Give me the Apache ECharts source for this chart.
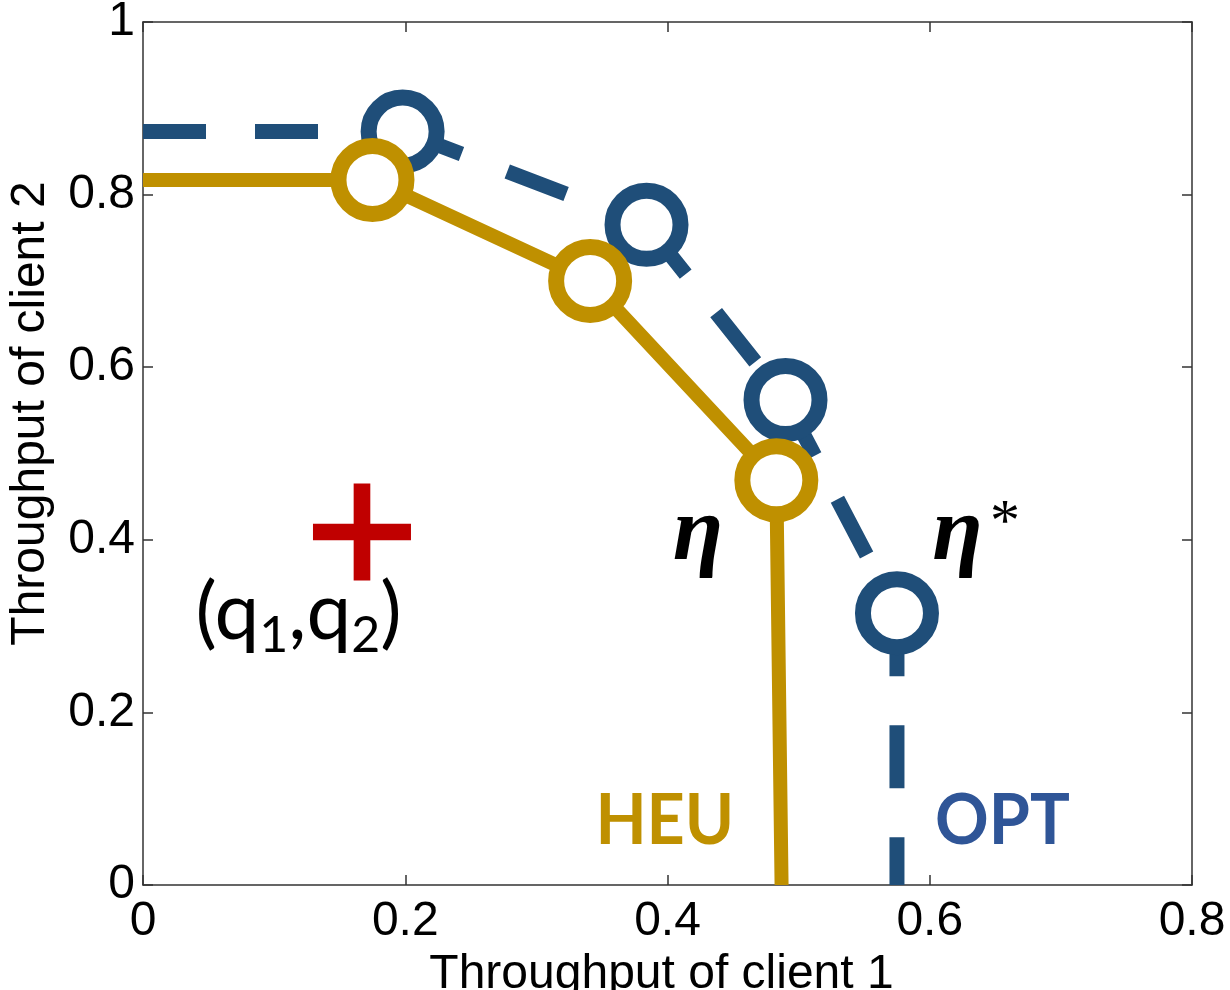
<!DOCTYPE html>
<html><head><meta charset="utf-8">
<script src="https://cdn.jsdelivr.net/npm/echarts@6/dist/echarts.min.js"></script>
<style>html,body{margin:0;padding:0;background:#fff}#chart{width:1230px;height:990px}</style>
</head><body><div id="chart"></div>
<script>
// Throughput region of two clients: heuristic (HEU) vs optimal (OPT) frontier
const xTicks = [0, 0.2, 0.4, 0.6, 0.8];
const yTicks = [0, 0.2, 0.4, 0.6, 0.8, 1];
const optX = [0, 0.198, 0.384, 0.490, 0.575, 0.575];
const optY = [0.873, 0.873, 0.765, 0.562, 0.315, 0];
const heuX = [0, 0.175, 0.341, 0.483, 0.487];
const heuY = [0.817, 0.817, 0.700, 0.469, 0];
const demand = [0.167, 0.409]; // (q1, q2)

const OPT_C = '#1f4e79', HEU_C = '#bf9000';
const pts = (xs, ys) => xs.map((x, i) => [x, ys[i]]);
const inner = a => a.slice(1, -1); // frontier vertices carry the circle markers

const chart = echarts.init(document.getElementById('chart'), null, {renderer: 'canvas'});
const FONT = '"Liberation Sans", Arial, sans-serif';

const axisCommon = {
  type: 'value', interval: 0.2,
  axisLine: {show: true, onZero: false, lineStyle: {color: '#333', width: 1.5}},
  axisTick: {show: true, inside: true, length: 10, lineStyle: {color: '#333', width: 1.5}},
  splitLine: {show: false}
};
const labelStyle = {color: '#000', fontSize: 48, fontFamily: FONT};
const fmt = v => String(+v.toFixed(1));

// The dashed OPT boundary restarts its dash pattern at every vertex,
// so each segment is drawn as its own short line.
const optPts = pts(optX, optY);
const optSegments = optPts.slice(1).map((p, i) => ({
  type: 'line', data: [optPts[i], p], symbol: 'none', z: 2, silent: true,
  lineStyle: {color: OPT_C, width: 15, type: [63, 49], cap: 'butt'}
}));

chart.setOption({
  animation: false,
  backgroundColor: '#fff',
  grid: {left: 143, right: 38, top: 22, bottom: 105, containLabel: false, outerBoundsMode: 'none'},
  xAxis: [
    Object.assign({}, axisCommon, {position: 'bottom', min: xTicks[0], max: xTicks[xTicks.length - 1],
      name: 'Throughput of client 1', nameLocation: 'middle', nameGap: 66,
      nameTextStyle: {color: '#000', fontSize: 48, fontFamily: FONT, padding: [0, 12, 0, 0]},
      axisLabel: Object.assign({margin: 13, formatter: fmt}, labelStyle)}),
    Object.assign({}, axisCommon, {position: 'top', min: xTicks[0], max: xTicks[xTicks.length - 1],
      axisLabel: {show: false}})
  ],
  yAxis: [
    Object.assign({}, axisCommon, {position: 'left', min: yTicks[0], max: yTicks[yTicks.length - 1],
      name: 'Throughput of client 2', nameLocation: 'middle', nameGap: 88,
      nameTextStyle: {color: '#000', fontSize: 48, fontFamily: FONT, padding: [0, 0, 0, 80]},
      axisLabel: Object.assign({margin: 8, formatter: fmt}, labelStyle)}),
    Object.assign({}, axisCommon, {position: 'right', min: yTicks[0], max: yTicks[yTicks.length - 1],
      axisLabel: {show: false}})
  ],
  series: optSegments.concat([
    {type: 'scatter', data: inner(optPts), symbol: 'circle', symbolSize: 68, z: 3,
     itemStyle: {color: '#fff', borderColor: OPT_C, borderWidth: 16, opacity: 1}},
    {type: 'line', name: 'HEU', data: pts(heuX, heuY), symbol: 'none', z: 4,
     lineStyle: {color: HEU_C, width: 14}},
    {type: 'scatter', data: inner(pts(heuX, heuY)), symbol: 'circle', symbolSize: 68, z: 5,
     itemStyle: {color: '#fff', borderColor: HEU_C, borderWidth: 16, opacity: 1}},
    {type: 'scatter', data: [demand], z: 6, symbolSize: [98, 97],
     symbol: 'path://M41.5,0H58.5V41.5H100V58.5H58.5V100H41.5V58.5H0V41.5H41.5Z',
     itemStyle: {color: '#c00000', opacity: 1}}
  ])
});

// Text annotations anchored in data coordinates
const ETA_FONT = 'bold italic 92px "Liberation Serif", serif';
const notes = [
  {at: [0.040, 0.315], rich: true},
  {at: [0.404, 0.405], text: 'η', font: ETA_FONT, fill: '#000'},
  {at: [0.602, 0.405], text: 'η', font: ETA_FONT, fill: '#000'},
  {at: [0.646, 0.418], text: '*', font: '60px "Liberation Serif", serif', fill: '#000'},
  {at: [0.345, 0.074], text: 'HEU', font: 'bold 70px Lato, sans-serif', fill: HEU_C, sx: 0.95},
  {at: [0.604, 0.074], text: 'OPT', font: 'bold 70px Lato, sans-serif', fill: '#2f5597', sx: 0.95}
];
const graphics = notes.map(n => {
  const p = chart.convertToPixel({gridIndex: 0}, n.at);
  if (n.rich) {
    return {type: 'text', x: p[0], y: p[1], z: 10, style: {
      text: '{n|(q}{s|1}{n|,q}{s|2}{n|)}', verticalAlign: 'middle', align: 'left',
      rich: {
        n: {fontFamily: 'Lato, sans-serif', fontSize: 80, lineHeight: 96, verticalAlign: 'middle', fill: '#000'},
        s: {fontFamily: 'Lato, sans-serif', fontSize: 50, lineHeight: 50, verticalAlign: 'bottom', fill: '#000'}
      }}};
  }
  return {type: 'text', x: p[0], y: p[1], z: 10, scaleX: n.sx || 1,
    style: {text: n.text, font: n.font, fill: n.fill, align: 'left', verticalAlign: 'middle'}};
});
chart.setOption({graphic: graphics});
</script></body></html>
